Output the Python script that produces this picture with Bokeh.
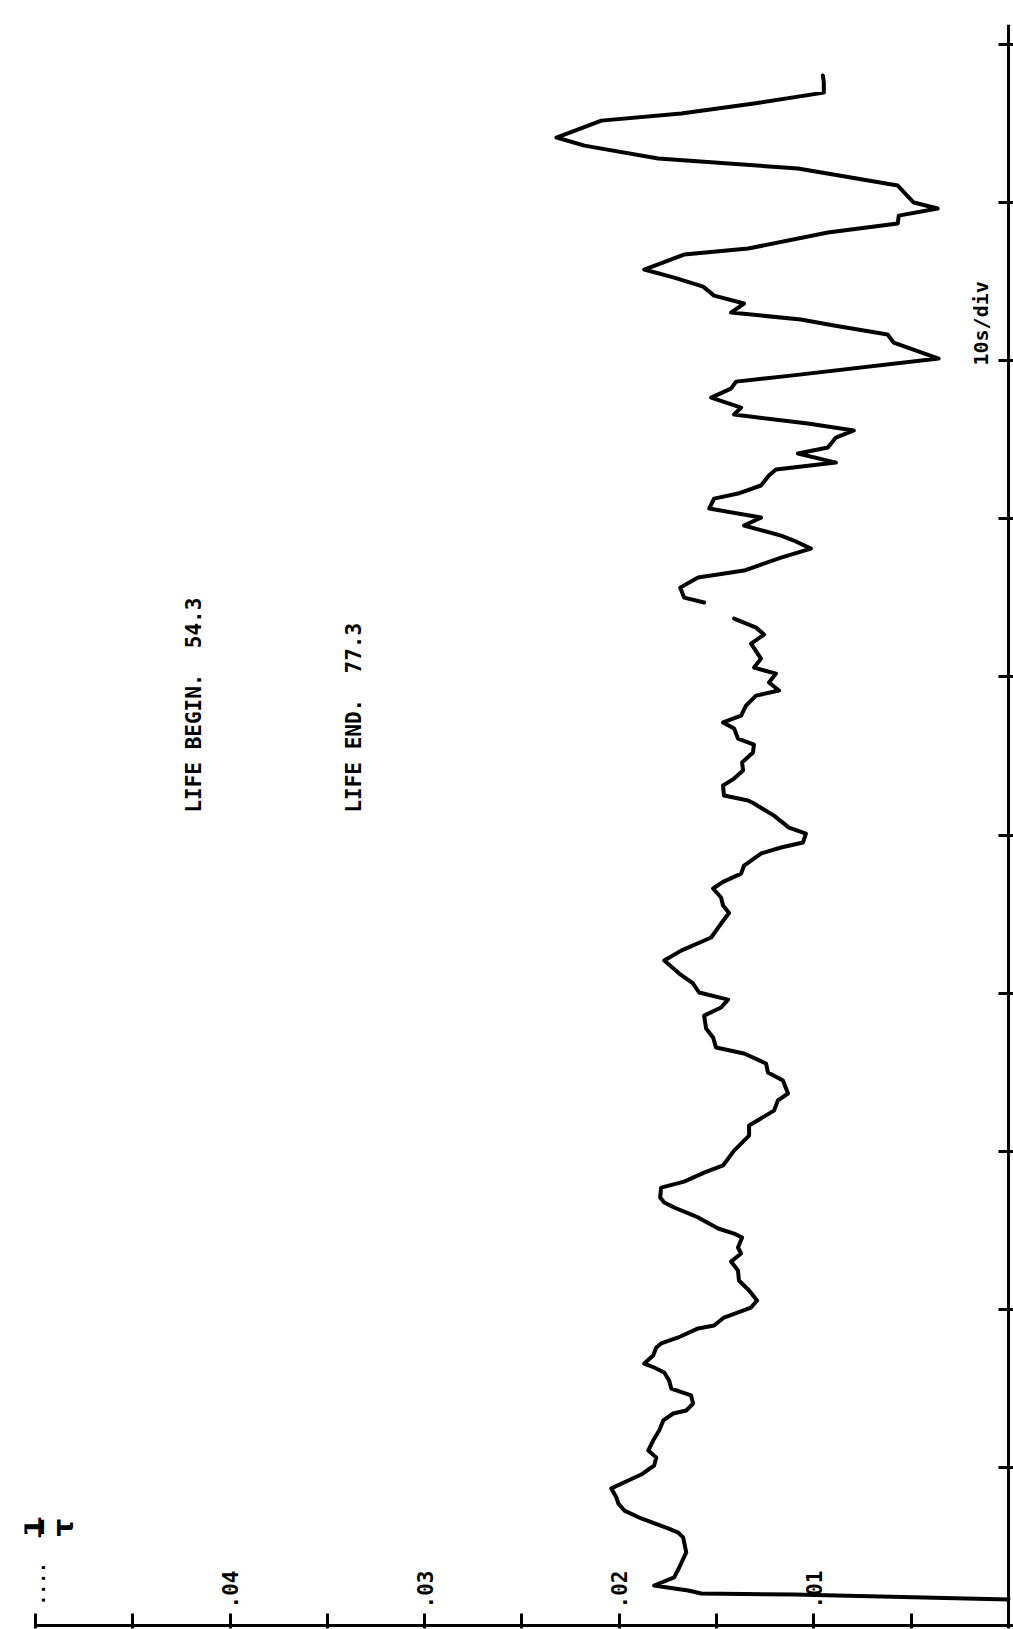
import math
from bokeh.plotting import figure
from bokeh.models import Range1d, LinearAxis, FixedTicker, Label, CustomJSTickFormatter
from bokeh.embed import file_html
from bokeh.resources import INLINE
from bokeh.core.properties import value

NAN = float("nan")

# Time (s), plotted along the vertical axis (10 s per division)
time_s = [
    1.64, 1.77, 1.96, 2.02, 2.21, 2.53, 3.04, 3.67, 4.62, 5.57,
    5.88, 6.14, 6.77, 7.27, 7.72, 8.10, 8.67, 9.17, 9.55, 10.12,
    10.63, 11.07, 11.70, 12.33, 12.97, 13.41, 13.60, 14.04, 14.55, 14.99,
    15.50, 16.00, 16.32, 16.57, 17.08, 17.58, 17.84, 18.22, 18.79, 18.98,
    19.48, 20.11, 20.56, 21.19, 21.82, 22.45, 23.02, 23.53, 23.91, 24.54,
    24.79, 25.11, 25.81, 26.44, 26.76, 27.07, 27.70, 28.08, 28.65, 29.10,
    30.04, 30.99, 31.63, 32.57, 33.21, 33.65, 34.47, 34.98, 35.55, 36.18,
    36.56, 37.19, 37.76, 38.58, 39.09, 39.59, 40.04, 40.61, 41.24, 42.06,
    42.69, 43.52, 44.40, 45.07, 45.54, 46.05, 46.62, 47.04, 47.56, 48.07,
    48.83, 49.21, 49.53, 50.09, 50.47, 51.23, 51.99, 52.18, 52.50, 53.13,
    53.57, 54.08, 54.59, 55.22, 55.72, 56.10, 56.74, 57.12, 57.56, 58.19,
    58.82, 59.14, 59.65, 60.21, 60.59, 61.16, 62.11, 62.68, 63.12, 63.69,
    NAN,
    64.71, 65.02, 65.65, 66.29, 66.73, 67.55, 68.12, 68.63, 68.94, 69.58,
    70.08, 70.65, 71.28, 71.60, 72.11, 72.74, 73.12, 73.56, 74.13, 74.51,
    75.14, 75.59, 76.03, 76.60, 77.04, 77.67, 78.24, 78.68, 79.06, 80.14,
    81.15, 81.66, 82.23, 82.61, 83.05, 83.62, 84.12, 84.69, 85.26, 85.77,
    86.72, 87.10, 88.11, 88.68, 89.18, 89.63, 90.01, 91.08, 92.16, 92.79,
    93.61, 94.12, 95.19, 95.64, 96.27, 96.96, 97.60, 98.04,
]

# 1/tau, plotted along the horizontal axis (increasing to the left)
inv_tau = [
    0.00000, 0.00436, 0.01103, 0.01579, 0.01646, 0.01821, 0.01718, 0.01692, 0.01656, 0.01672,
    0.01697, 0.01749, 0.01887, 0.01974, 0.02005, 0.02015, 0.02041, 0.01954, 0.01887, 0.01821,
    0.01810, 0.01851, 0.01826, 0.01795, 0.01774, 0.01723, 0.01656, 0.01621, 0.01631, 0.01733,
    0.01744, 0.01769, 0.01821, 0.01872, 0.01826, 0.01810, 0.01785, 0.01697, 0.01595, 0.01513,
    0.01462, 0.01323, 0.01292, 0.01333, 0.01385, 0.01390, 0.01426, 0.01374, 0.01390, 0.01369,
    0.01410, 0.01492, 0.01595, 0.01718, 0.01769, 0.01790, 0.01785, 0.01667, 0.01564, 0.01467,
    0.01410, 0.01333, 0.01333, 0.01205, 0.01185, 0.01133, 0.01159, 0.01236, 0.01246, 0.01359,
    0.01503, 0.01518, 0.01554, 0.01564, 0.01477, 0.01441, 0.01590, 0.01621, 0.01692, 0.01769,
    0.01682, 0.01528, 0.01477, 0.01436, 0.01467, 0.01477, 0.01518, 0.01467, 0.01374, 0.01359,
    0.01272, 0.01169, 0.01056, 0.01041, 0.01128, 0.01205, 0.01308, 0.01338, 0.01462, 0.01467,
    0.01410, 0.01364, 0.01369, 0.01313, 0.01308, 0.01390, 0.01410, 0.01467, 0.01374, 0.01349,
    0.01297, 0.01179, 0.01231, 0.01195, 0.01308, 0.01272, 0.01323, 0.01256, 0.01297, 0.01410,
    NAN,
    0.01564, 0.01667, 0.01687, 0.01595, 0.01359, 0.01169, 0.01015, 0.01103, 0.01169, 0.01359,
    0.01272, 0.01538, 0.01513, 0.01390, 0.01272, 0.01231, 0.01195, 0.00887, 0.01082, 0.00928,
    0.00887, 0.00795, 0.01031, 0.01410, 0.01374, 0.01528, 0.01426, 0.01400, 0.01118, 0.00359,
    0.00590, 0.00621, 0.00897, 0.01067, 0.01426, 0.01359, 0.01513, 0.01569, 0.01718, 0.01872,
    0.01667, 0.01338, 0.00928, 0.00569, 0.00564, 0.00364, 0.00487, 0.00569, 0.01082, 0.01800,
    0.02179, 0.02323, 0.02092, 0.01682, 0.01308, 0.00949, 0.00949, 0.00954,
]

inv_tau_ticks = [0.0, 0.005, 0.01, 0.015, 0.02, 0.025, 0.03, 0.035, 0.04, 0.045, 0.05]
inv_tau_label_values = [0.04, 0.03, 0.02, 0.01]
inv_tau_labels = [".04", ".03", ".02", ".01"]
top_label_value = [0.05]
top_label_text = ["...."]
time_ticks = [0, 10, 20, 30, 40, 50, 60, 70, 80, 90, 100]

FONT = "DejaVu Sans Mono"
T_TOP = 101.27

p = figure(width=1013, height=1629,
           x_range=Range1d(0.050565, -0.000257), y_range=Range1d(-0.253, T_TOP),
           output_backend="svg", toolbar_location=None,
           x_axis_location=None, y_axis_location=None)
p.grid.visible = False
p.outline_line_color = None
p.min_border = 0
p.min_border_left = 24
p.min_border_right = 0
p.min_border_top = 24
p.min_border_bottom = 0
p.background_fill_color = "white"
p.border_fill_color = "white"

blank = CustomJSTickFormatter(code="return ''")

# 1/tau axis: drawn at t = 0, ticks pointing up into the plot
inv_axis = LinearAxis(ticker=FixedTicker(ticks=inv_tau_ticks), bounds=(0.0, 0.05),
                      fixed_location=0.0,
                      formatter=blank, major_label_text_font_size="1px",
                      major_label_standoff=0, major_tick_out=12, major_tick_in=3,
                      minor_tick_line_color=None, axis_line_width=3,
                      major_tick_line_width=3, axis_line_color="black",
                      major_tick_line_color="black")
p.add_layout(inv_axis, "above")

# time axis: drawn at 1/tau = 0, ticks pointing left into the plot
time_axis = LinearAxis(ticker=FixedTicker(ticks=time_ticks), bounds=(0.0, T_TOP),
                       fixed_location=0.0,
                       formatter=blank, major_label_text_font_size="1px",
                       major_label_standoff=0, major_tick_out=10, major_tick_in=5,
                       minor_tick_line_color=None, axis_line_width=3,
                       major_tick_line_width=3, axis_line_color="black",
                       major_tick_line_color="black")
p.add_layout(time_axis, "left")

# the trace
p.line(inv_tau, time_s, line_color="black", line_width=4,
       line_join="round", line_cap="round")

# tick labels on the 1/tau axis (rotated, above the axis line)
p.text(x=inv_tau_label_values, y=[0] * len(inv_tau_label_values), text=inv_tau_labels,
       angle=math.pi / 2, text_align="left", text_baseline="middle", y_offset=-17,
       text_font=value(FONT), text_font_style="bold", text_font_size="21px",
       text_color="black")
p.text(x=top_label_value, y=[0], text=top_label_text,
       angle=math.pi / 2, text_align="left", text_baseline="alphabetic",
       y_offset=-20, x_offset=3,
       text_font=value(FONT), text_font_style="bold", text_font_size="18px",
       text_color="black")

# 1/tau symbol (stacked fraction, rotated)
for txt, xv, base, size in [("1", 0.05010, "alphabetic", "28px"),
                            ("\u2014", 0.04985, "middle", "22px"),
                            ("\u03c4", 0.04856, "alphabetic", "28px")]:
    p.add_layout(Label(x=xv, y=6.2, text=txt, angle=math.pi / 2,
                       text_align="center", text_baseline=base,
                       text_font="DejaVu Sans", text_font_style="bold",
                       text_font_size=size, text_color="black"))

# annotations
SP = "\u00a0\u00a0"
p.add_layout(Label(x=0.04183, y=51.42, text="LIFE BEGIN." + SP + "54.3", angle=math.pi / 2,
                   text_align="left", text_baseline="middle",
                   text_font=FONT, text_font_style="bold", text_font_size="21px",
                   text_color="black"))
p.add_layout(Label(x=0.03361, y=51.42, text="LIFE END." + SP + "77.3", angle=math.pi / 2,
                   text_align="left", text_baseline="middle",
                   text_font=FONT, text_font_style="bold", text_font_size="21px",
                   text_color="black"))
p.add_layout(Label(x=0.00139, y=79.70, text="10s/div", angle=math.pi / 2,
                   text_align="left", text_baseline="middle",
                   text_font=FONT, text_font_style="bold", text_font_size="20px",
                   text_color="black"))

open("out.html", "w").write(file_html(p, INLINE))
